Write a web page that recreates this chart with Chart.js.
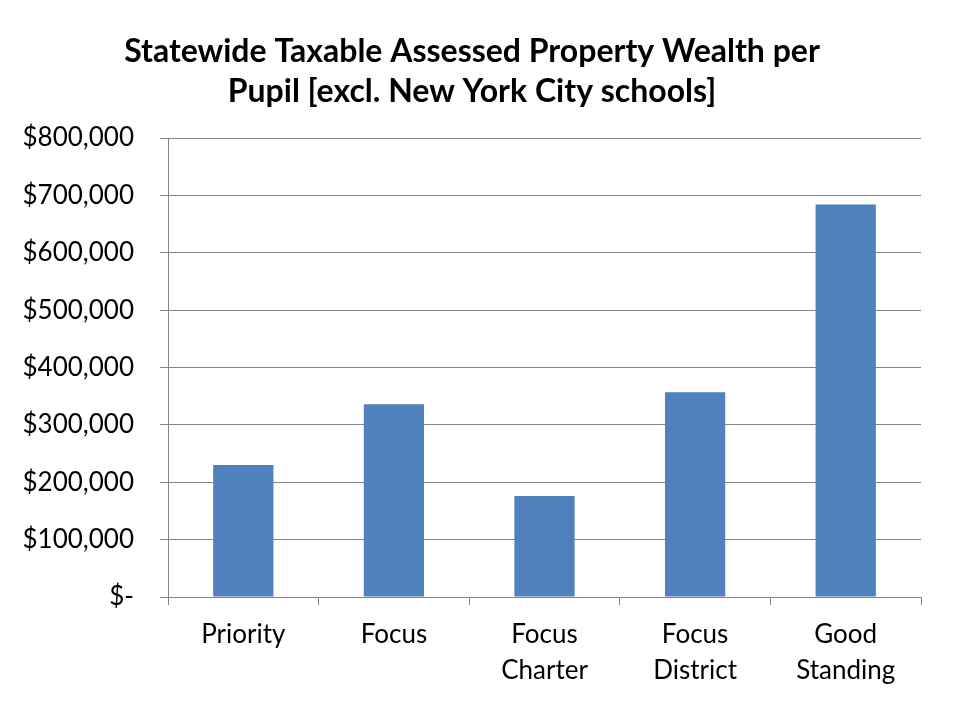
<!DOCTYPE html>
<html>
<head>
<meta charset="utf-8">
<script src="https://cdn.jsdelivr.net/npm/chart.js@4.4.0/dist/chart.umd.min.js"></script>
<style>
    html, body { margin: 0; padding: 0; background: #fff; }
    #wrap { width: 960px; height: 720px; }
</style>
</head>
<body>
<div id="wrap"><canvas id="wealthChart" width="960" height="720"></canvas></div>
<script>
// data
const categories = [['Priority'], ['Focus'], ['Focus', 'Charter'], ['Focus', 'District'], ['Good', 'Standing']];
const wealthPerPupil = [230000, 336000, 176000, 357000, 684000];
const yTicks = [0, 100000, 200000, 300000, 400000, 500000, 600000, 700000, 800000];
const yTickLabels = ['$-', '$100,000', '$200,000', '$300,000', '$400,000', '$500,000', '$600,000', '$700,000', '$800,000'];
const titleLines = ['Statewide Taxable Assessed Property Wealth per', 'Pupil [excl. New York City schools]'];

const gridGray = '#868686';
const fontFamily = 'Lato, "Open Sans", sans-serif';

const ctx = document.getElementById('wealthChart').getContext('2d');
new Chart(ctx, {
    type: 'bar',
    data: {
        labels: categories,
        datasets: [{
            data: wealthPerPupil,
            backgroundColor: '#4F81BD',
            borderWidth: 0,
            categoryPercentage: 1.0,
            barPercentage: 0.4
        }]
    },
    options: {
        responsive: false,
        animation: false,
        // left/right padding also shifts the title centre to match
        layout: { padding: { left: 23, right: 39, top: 0, bottom: 0 } },
        plugins: {
            legend: { display: false },
            tooltip: { enabled: false },
            title: {
                display: true,
                text: titleLines,
                color: '#000',
                font: { family: fontFamily, size: 32, weight: 'bold', lineHeight: 1.25 },
                padding: { top: 32, bottom: 26 }
            }
        },
        scales: {
            x: {
                grid: {
                    display: true,
                    drawOnChartArea: false,
                    drawTicks: true,
                    tickLength: 8,
                    color: gridGray,
                    offset: true
                },
                border: { display: true, color: gridGray, width: 1 },
                ticks: {
                    color: '#000',
                    font: { family: fontFamily, size: 26, lineHeight: 1.385 },
                    padding: 12,
                    maxRotation: 0,
                    autoSkip: false
                },
                afterFit: function(scale) { scale.height = 123; }
            },
            y: {
                min: 0,
                max: 800000,
                afterBuildTicks: function(scale) {
                    scale.ticks = yTicks.map(function(v) { return { value: v }; });
                },
                grid: {
                    color: gridGray,
                    lineWidth: 1,
                    tickLength: 8
                },
                border: { display: true, color: gridGray, width: 1 },
                ticks: {
                    color: '#000',
                    font: { family: fontFamily, size: 26 },
                    padding: 26,
                    callback: function(value) {
                        const i = yTicks.indexOf(value);
                        return i >= 0 ? yTickLabels[i] : '';
                    }
                },
                afterFit: function(scale) { scale.width = 145; }
            }
        }
    }
});
</script>
</body>
</html>
